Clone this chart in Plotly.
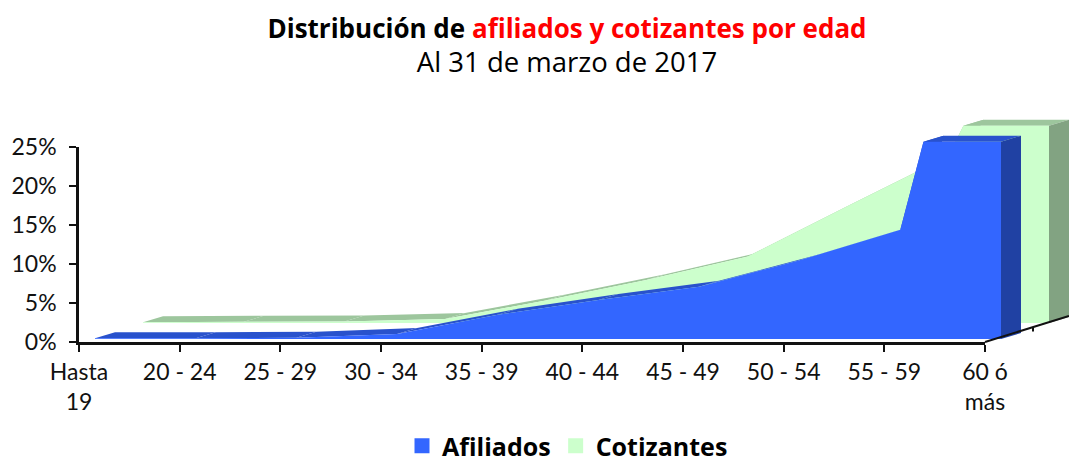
import plotly.graph_objects as go

categories = ["Hasta<br>19", "20 - 24", "25 - 29", "30 - 34", "35 - 39",
              "40 - 44", "45 - 49", "50 - 54", "55 - 59", "60 ó<br>más"]
category_pos = list(range(10))
pct_ticks = [0, 5, 10, 15, 20, 25]
pct_labels = ["0%", "5%", "10%", "15%", "20%", "25%"]

afiliados_x = [0, 1, 2, 3, 4, 5, 6, 7, 8, 8.23, 9]
afiliados = [0.1, 0.1, 0.15, 0.65, 3.1, 5.0, 6.7, 10.1, 14.0, 25.3, 25.3]
cotizantes_x = [0, 1, 2, 3, 4, 5, 6, 7, 8, 8.15, 9]
cotizantes = [0.1, 0.15, 0.2, 0.5, 2.9, 5.5, 8.5, 15.0, 21.4, 25.3, 25.3]

W, H = 1069, 461
X0, X9, Y0, Y25 = 79, 985, 342, 147
PX = (X9 - X0) / 9
PY = (Y0 - Y25) / 25
FONT = "Lato"
HEAD_FONT = "Open Sans"

def dx(px):
    return px / PX

def dy(px):
    return px / PY

def solid(name_x, name_y, color):
    return go.Scatter(x=name_x, y=name_y, mode="lines", fill="toself", fillcolor=color,
                      line=dict(width=0, color=color, simplify=False), hoverinfo="skip", showlegend=False,
                      xaxis="x2", yaxis="y2")

def prism(xs, ys, ox, oy, front, top, side):
    """Oblique extrusion of one series: front face shifted by (ox, oy) px, 20 x 6 px deep."""
    bx, by = dx(ox), dy(oy)
    ddx, ddy = dx(20), dy(6)
    out = []
    for i in range(len(xs) - 1):
        out.append(solid(
            [xs[i] + bx, xs[i + 1] + bx, xs[i + 1] + bx + ddx, xs[i] + bx + ddx, xs[i] + bx],
            [ys[i] + by, ys[i + 1] + by, ys[i + 1] + by + ddy, ys[i] + by + ddy, ys[i] + by], top))
    out.append(solid([xs[-1] + bx, xs[-1] + bx, xs[-1] + bx + ddx, xs[-1] + bx + ddx, xs[-1] + bx],
                     [by, ys[-1] + by, ys[-1] + by + ddy, by + ddy, by], side))
    out.append(solid([xs[0] + bx] + [v + bx for v in xs] + [xs[-1] + bx, xs[0] + bx],
                     [by] + [v + by for v in ys] + [by, by], front))
    return out

fig = go.Figure()
for t in prism(cotizantes_x, cotizantes, 64, 19, "#CCFFCC", "#9DC69D", "#82A382"):
    fig.add_trace(t)
for t in prism(afiliados_x, afiliados, 16, 3, "#3366FF", "#2952CC", "#2041A3"):
    fig.add_trace(t)

# floor edge of the depth axis, with its tick
fig.add_trace(go.Scatter(
    x=[9, 9 + dx(84), None, 9 + dx(48), 9 + dx(48)],
    y=[0, dy(26), None, dy(14.5), dy(10.5)],
    mode="lines", line=dict(color="#111111", width=2), hoverinfo="skip", showlegend=False,
    xaxis="x2", yaxis="y2"))

# legend entries
fig.add_trace(go.Scatter(x=[None], y=[None], mode="markers", name="Afiliados",
                         marker=dict(symbol="square", size=15, color="#3366FF")))
fig.add_trace(go.Scatter(x=[None], y=[None], mode="markers", name="Cotizantes",
                         marker=dict(symbol="square", size=15, color="#CCFFCC")))

axis_font = dict(family=FONT, size=23, color="#111111")
fig.update_layout(
    width=W, height=H, margin=dict(l=0, r=0, t=0, b=0, autoexpand=False),
    paper_bgcolor="white", plot_bgcolor="rgba(0,0,0,0)",
    title=dict(
        text="<b>Distribución de <span style='color:#FF0000'>afiliados y cotizantes por edad</span></b><br>"
             "<span style='font-size:27.5px'>Al 31 de marzo de 2017</span>",
        x=567 / W, xanchor="center", y=1 - 38 / H, yanchor="top", yref="paper",
        font=dict(family=HEAD_FONT, size=26, color="black")),
    xaxis=dict(domain=[X0 / W, X9 / W], range=[0, 9], tickmode="array", tickvals=category_pos,
               ticktext=categories, ticks="outside", ticklen=7, tickwidth=1.5, tickcolor="#111111",
               showline=True, linewidth=2.5, linecolor="#111111", showgrid=False, zeroline=False,
               tickfont=axis_font, tickangle=0, ticklabelstandoff=1),
    yaxis=dict(domain=[(H - Y0) / H, (H - Y25) / H], range=[0, 25], tickmode="array", tickvals=pct_ticks,
               ticktext=pct_labels, ticks="outside", ticklen=7, tickwidth=1.5, tickcolor="#111111",
               showline=True, linewidth=2.5, linecolor="#111111", showgrid=False, zeroline=False,
               tickfont=axis_font, ticklabelstandoff=8),
    xaxis2=dict(domain=[0, 1], range=[-X0 / PX, (W - X0) / PX], visible=False, anchor="y2", fixedrange=True),
    yaxis2=dict(domain=[0, 1], range=[-(H - Y0) / PY, Y0 / PY], visible=False, anchor="x2", fixedrange=True),
    legend=dict(orientation="h", x=402 / W, xanchor="left", y=1 - 423 / H, yanchor="top",
                font=dict(family=HEAD_FONT, size=25, color="black", weight="bold"),
                itemsizing="trace", bgcolor="rgba(0,0,0,0)", tracegroupgap=0),
    showlegend=True,
)

fig.write_html("out.html", config={"displayModeBar": False},
               post_script="document.body.style.margin='0';")
